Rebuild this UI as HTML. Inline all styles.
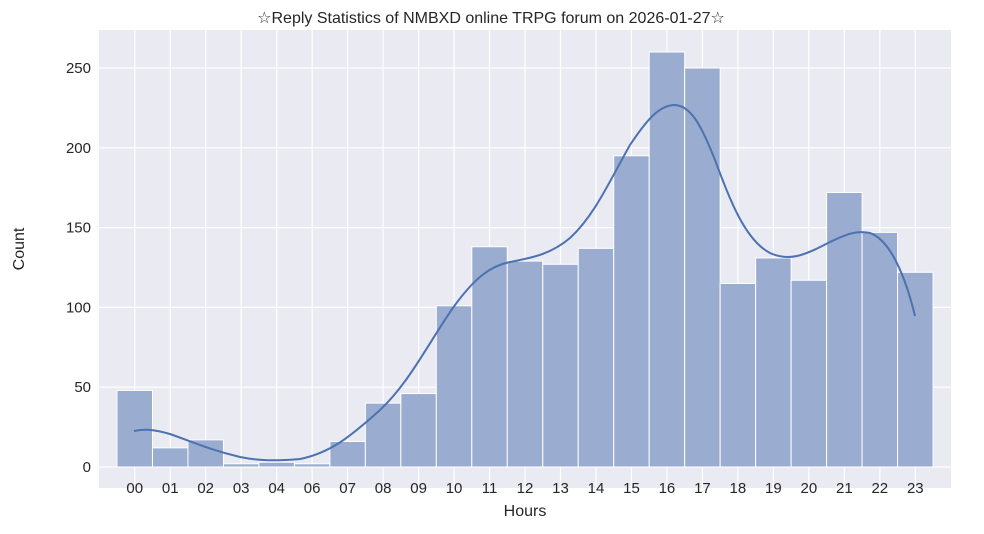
<!DOCTYPE html>
<html><head><meta charset="utf-8"><style>
body{margin:0;background:#fff;}
text{font-family:"Liberation Sans","DejaVu Sans",sans-serif;fill:#262626;}
</style></head><body>
<svg width="984" height="529" xmlns="http://www.w3.org/2000/svg">
<rect x="99" y="30" width="852" height="458" fill="#eaeaf2"/>
<g id="grid" stroke="#fff" stroke-width="1.2"></g>
<g id="bars"></g>
<path d="M134,431 C145,429 152,429 170,434 C190,441 210,450 240,457 C260,461 276,461 300,459 C330,453 350,437 380,410 C410,382 430,340 455,305 C475,278 490,266 510,262 C530,258 550,255 570,238 C595,215 610,180 630,145 C648,118 660,105 675,105 C690,106 700,122 715,160 C730,200 745,240 770,253 C790,262 805,255 830,242 C845,235 855,230 870,233 C890,240 905,275 915,316" fill="none" stroke="#4c72b0" stroke-width="2"/>
<g id="labels" font-size="15"></g>
<text x="491" y="23" text-anchor="middle" font-size="16">☆Reply Statistics of NMBXD online TRPG forum on 2026-01-27☆</text>
<text x="525" y="516" text-anchor="middle" font-size="16">Hours</text>
<text x="24" y="249" text-anchor="middle" font-size="16" transform="rotate(-90 24 249)">Count</text>
</svg>
<script>
const ns="http://www.w3.org/2000/svg";
const labs=["00","01","02","03","04","06","07","08","09","10","11","12","13","14","15","16","17","18","19","20","21","22","23"];
const v=[48,12,17,2,3,2,16,40,46,101,138,129,127,137,195,260,250,115,131,117,172,147,122];
const x0=117,w=35.48,y0=467,k=1.596;
const g=document.getElementById('grid'),b=document.getElementById('bars'),l=document.getElementById('labels');
function el(t,a,p){const e=document.createElementNS(ns,t);for(const i in a)e.setAttribute(i,a[i]);p.appendChild(e);return e;}
for(let t=0;t<=250;t+=50){const y=y0-t*k;el('line',{x1:99,x2:951,y1:y,y2:y},g);const tx=el('text',{x:91,y:y+5,'text-anchor':'end'},l);tx.textContent=t;}
labs.forEach((s,i)=>{const cx=x0+w*(i+0.5);el('line',{x1:cx,x2:cx,y1:30,y2:488},g);
el('rect',{x:x0+w*i,y:y0-v[i]*k,width:w,height:v[i]*k,fill:'#9aaccf',stroke:'#fff','stroke-width':1},b);
const tx=el('text',{x:cx,y:493,'text-anchor':'middle'},l);tx.textContent=s;});
</script>
</body></html>
